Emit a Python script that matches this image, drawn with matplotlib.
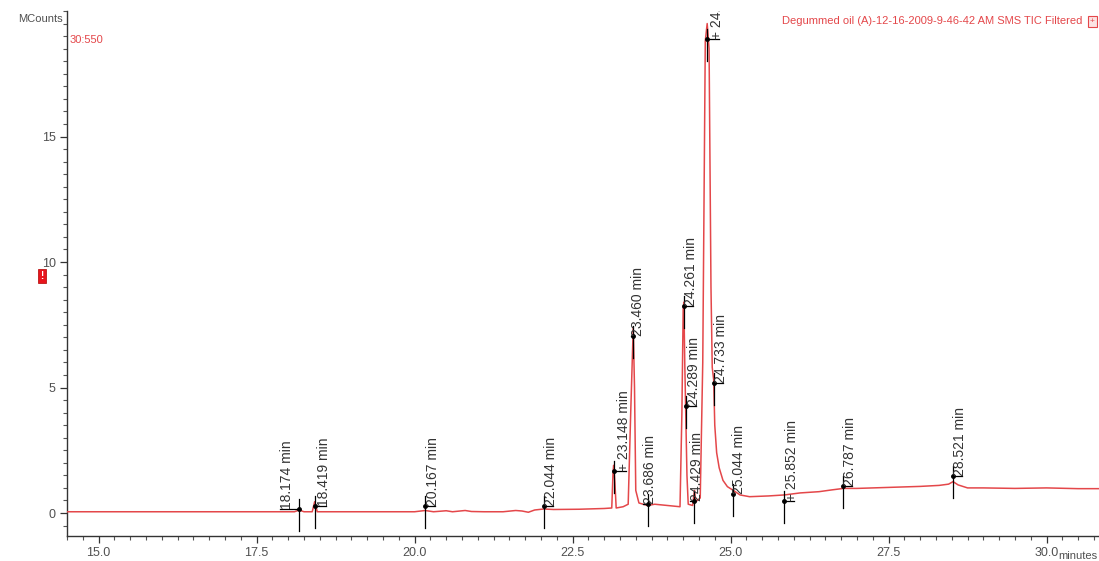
import matplotlib
matplotlib.use("Agg")
import matplotlib.pyplot as plt
from matplotlib.ticker import MultipleLocator, FormatStrFormatter
from matplotlib.patches import Rectangle

# ---------------- data ----------------
time_min = [14.50, 15.5, 16.5, 17.5, 18.10, 18.174, 18.25, 18.38, 18.419, 18.46,
            19.0, 20.0, 20.167, 20.3, 20.5, 20.6, 20.8, 20.9, 21.1, 21.4, 21.6,
            21.7, 21.8, 21.9, 22.044, 22.2, 22.6, 23.0, 23.12, 23.14, 23.15,
            23.17, 23.19, 23.30, 23.38, 23.42, 23.46, 23.48, 23.50, 23.55,
            23.686, 23.8, 24.0, 24.2, 24.23, 24.25, 24.261, 24.275, 24.289,
            24.31, 24.33, 24.40, 24.429, 24.45, 24.52, 24.56, 24.60, 24.63,
            24.66, 24.69, 24.71, 24.733, 24.75, 24.78, 24.82, 24.88, 24.95,
            25.044, 25.15, 25.3, 25.6, 25.852, 26.1, 26.4, 26.6, 26.787, 27.0,
            27.5, 28.0, 28.3, 28.45, 28.521, 28.6, 28.75, 29.0, 29.5, 30.0,
            30.5, 30.83]
mcounts = [0.05, 0.05, 0.05, 0.05, 0.05, 0.12, 0.05, 0.05, 0.45, 0.05,
           0.05, 0.05, 0.10, 0.05, 0.09, 0.05, 0.10, 0.06, 0.05, 0.05, 0.10,
           0.08, 0.03, 0.12, 0.16, 0.14, 0.15, 0.18, 0.20, 1.6, 1.9,
           1.2, 0.2, 0.25, 0.35, 4.0, 7.4, 5.0, 0.9, 0.4,
           0.30, 0.35, 0.30, 0.25, 4.0, 8.1, 8.4, 6.0, 4.2,
           1.5, 0.35, 0.30, 0.9, 0.45, 0.6, 6.0, 18.8, 19.5,
           18.5, 9.0, 5.8, 5.3, 3.5, 2.4, 1.8, 1.3, 1.05,
           0.90, 0.72, 0.65, 0.68, 0.72, 0.80, 0.85, 0.92, 0.98, 0.98,
           1.02, 1.06, 1.10, 1.15, 1.25, 1.12, 1.00, 1.00, 0.98, 1.00,
           0.97, 0.97]

peak_times = [18.174, 18.419, 20.167, 22.044, 23.148, 23.460, 23.686, 24.261,
              24.289, 24.429, 24.630, 24.733, 25.044, 25.852, 26.787, 28.521]
peak_labels = ["18.174 min", "18.419 min", "20.167 min", "22.044 min",
               "+ 23.148 min", "23.460 min", "23.686 min", "24.261 min",
               "24.289 min", "24.429 min", "+ 24.630 min", "24.733 min",
               "25.044 min", "+ 25.852 min", "26.787 min", "28.521 min"]
label_levels = [0.16, 0.28, 0.28, 0.28, 1.67, 7.05, 0.36, 8.25,
                4.26, 0.48, 18.9, 5.18, 0.76, 0.48, 1.08, 1.47]

x_ticks = [15.0, 17.5, 20.0, 22.5, 25.0, 27.5, 30.0]
y_ticks = [0, 5, 10, 15]

# ---------------- layout ----------------
W, H = 1099, 561
fig = plt.figure(figsize=(W / 100, H / 100), dpi=100)
ax_left, ax_top, ax_bottom = 67, 11, 535.6
ax = fig.add_axes([ax_left / W, (H - ax_bottom) / H, (W - ax_left) / W, (ax_bottom - ax_top) / H])
ax.set_xlim(14.5, 30.83)
ax.set_ylim(-0.9, 20.0)

# text offsets (pixels) of each label's left edge relative to its peak
label_dx_px = [-19, 2, 1, 0, 3, -2, -5, 0, 1, -4, 3, 0, -1, 1, 0, 0]

RED = "#e4474a"
GRAY = "#505050"
FONT = "Liberation Sans"

ax.plot(time_min, mcounts, color=RED, lw=1.1, zorder=3)

px_per_min = (W - ax_left) / (30.83 - 14.5)
px_per_unit = (ax_bottom - ax_top) / 20.9

for t, lab, lv, dx in zip(peak_times, peak_labels, label_levels, label_dx_px):
    tx = t + dx / px_per_min
    ax.plot([t, t], [lv - 22 / px_per_unit, lv + 10 / px_per_unit], color="black",
            lw=0.9, zorder=4)
    bar_end = tx + 9 / px_per_min if dx >= 0 else tx
    ax.plot([t, bar_end], [lv, lv], color="black", lw=0.9, zorder=4)
    ax.plot([t], [lv], marker="o", ms=2.5, color="black", zorder=5)
    ax.text(tx, lv, lab, rotation=90, ha="left", va="top", fontsize=10,
            family=FONT, color="#333333", clip_on=True, zorder=5,
            rotation_mode="anchor")

for s in ["top", "right"]:
    ax.spines[s].set_visible(False)
for s in ["left", "bottom"]:
    ax.spines[s].set_color("#333333")
    ax.spines[s].set_linewidth(1.0)

ax.set_xticks(x_ticks)
ax.xaxis.set_major_formatter(FormatStrFormatter("%.1f"))
ax.xaxis.set_minor_locator(MultipleLocator(0.25))
ax.set_yticks(y_ticks)
ax.yaxis.set_minor_locator(MultipleLocator(0.5))
ax.tick_params(axis="both", which="major", direction="out", length=5, width=0.9,
               color="#333333", labelcolor=GRAY, labelsize=9, pad=3)
ax.tick_params(axis="both", which="minor", direction="out", length=3, width=0.8,
               color="#555555")
for lbl in ax.get_xticklabels() + ax.get_yticklabels():
    lbl.set_family(FONT)
ax.set_facecolor("white")

fig.text(63 / W, 1 - 19 / H, "MCounts", ha="right", va="center", fontsize=8,
         family=FONT, color=GRAY)
fig.text(70 / W, 1 - 40 / H, "30:550", ha="left", va="center", fontsize=8,
         family=FONT, color=RED)
fig.text(1082 / W, 1 - 21 / H, "Degummed oil (A)-12-16-2009-9-46-42 AM SMS TIC Filtered",
         ha="right", va="center", fontsize=8, family=FONT, color=RED)
fig.patches.append(Rectangle((1088 / W, 1 - 27 / H), 9 / W, 11 / H, transform=fig.transFigure,
                             facecolor="#fbe3e3", edgecolor=RED, lw=0.8))
fig.text(1092.5 / W, 1 - 21.5 / H, "+", ha="center", va="center", fontsize=6,
         family=FONT, color=RED)
fig.text(1097 / W, 1 - 556 / H, "minutes", ha="right", va="center", fontsize=8,
         family=FONT, color=GRAY)
fig.text(42 / W, 1 - 276 / H, "!", ha="center", va="center", fontsize=7,
         family=FONT, color="white", fontweight="bold",
         bbox=dict(boxstyle="square,pad=0.25", facecolor="#e8141c", edgecolor="#b00000", lw=0.5))

fig.savefig("out.png", dpi=100, facecolor="white")
